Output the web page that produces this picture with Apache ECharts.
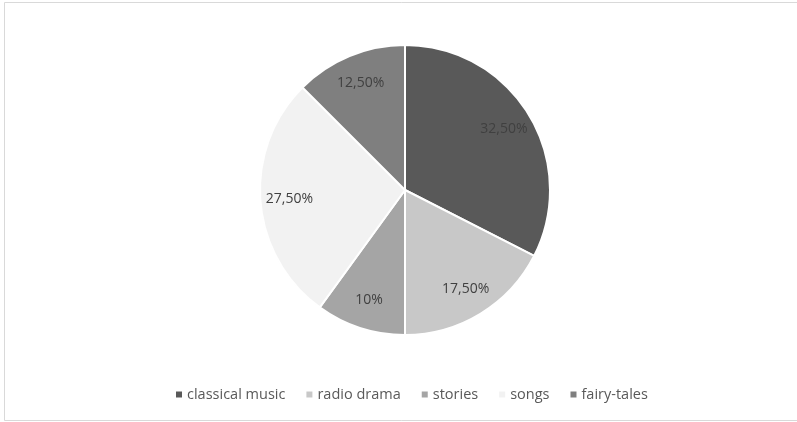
<!DOCTYPE html>
<html>
<head>
<meta charset="utf-8">
<script src="https://cdn.jsdelivr.net/npm/echarts@6/dist/echarts.min.js"></script>
<style>
  html, body { margin: 0; padding: 0; background: #fff; }
  #chart { width: 797px; height: 422px; }
</style>
</head>
<body>
<div id="chart"></div>
<script>
// Share of listening by content type
const categories = ['classical music', 'radio drama', 'stories', 'songs', 'fairy-tales'];
const shares = [32.5, 17.5, 10, 27.5, 12.5];
const sliceColors = ['#595959', '#c8c8c8', '#a5a5a5', '#f2f2f2', '#7f7f7f'];

const fontFamily = '"Open Sans", sans-serif';
const pieData = categories.map((name, i) => ({ name, value: shares[i] }));
const fmt = v => v.toFixed(2).replace(/\.00$/, '').replace('.', ',') + '%';

const chart = echarts.init(document.getElementById('chart'), null, { renderer: 'canvas' });
chart.setOption({
  animation: false,
  backgroundColor: '#ffffff',
  color: sliceColors,
  graphic: [{
    type: 'rect',
    shape: { x: 4.5, y: 2.5, width: 800, height: 418 },
    style: { fill: 'none', stroke: '#d9d9d9', lineWidth: 1 },
    silent: true
  }],
  legend: {
    bottom: 15,
    left: 171,
    icon: 'rect',
    itemWidth: 6,
    itemHeight: 6,
    itemGap: 21,
    itemStyle: { borderWidth: 0 },
    textStyle: { color: '#595959', fontSize: 14.5, fontFamily }
  },
  series: [
    {
      type: 'pie',
      center: [405, 190],
      radius: 145,
      startAngle: 90,
      clockwise: true,
      data: pieData,
      itemStyle: { borderColor: '#ffffff', borderWidth: 2 },
      label: { show: false },
      labelLine: { show: false },
      silent: true
    },
    {
      // transparent ring that carries the value labels
      type: 'pie',
      center: [405, 190],
      radius: [82, 144],
      startAngle: 90,
      clockwise: true,
      data: pieData,
      legendHoverLink: false,
      itemStyle: { color: 'rgba(0,0,0,0)', borderWidth: 0 },
      label: {
        show: true,
        position: 'inside',
        formatter: p => fmt(p.value),
        color: '#404040',
        fontSize: 14,
        fontFamily
      },
      labelLine: { show: false },
      silent: true
    }
  ]
});
</script>
</body>
</html>
